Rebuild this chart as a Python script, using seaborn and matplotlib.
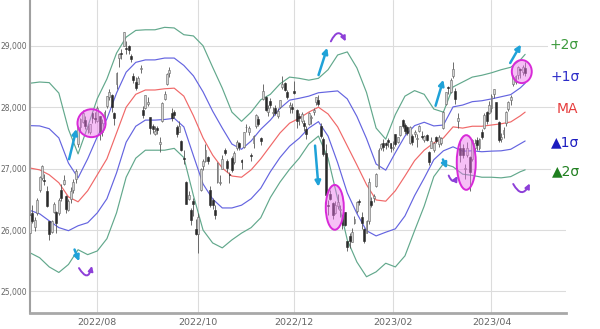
import numpy as np
import pandas as pd
import matplotlib
matplotlib.use("Agg")
import matplotlib.pyplot as plt
import seaborn as sns
from matplotlib.patches import Ellipse, FancyArrowPatch

# ---------------- data ----------------
jp_holidays = ["2022-07-18", "2022-08-11", "2022-09-19", "2022-09-23", "2022-10-10",
               "2022-11-03", "2022-11-23", "2023-01-02", "2023-01-03", "2023-01-09",
               "2023-02-23", "2023-03-21"]
dates = pd.bdate_range("2022-06-21", "2023-04-21", freq="C", holidays=jp_holidays)

opens = [25960, 26280, 26050, 26280, 26650, 26850, 26810, 26640,
         26150, 25970, 26300, 26300, 26270, 26650, 26750, 26560, 26320, 26500, 26650, 26830, 27400, 27680, 27760, 27790, 27650, 27600, 27900, 27830,
         27780, 27850, 27600, 27780, 28020, 28170, 28200, 27900, 28370, 28800, 28880, 28990, 28960, 28990, 28840, 28500, 28410, 28380, 28620, 27950, 27990, 28050,
         27840, 27700, 27560, 27660, 27400, 27770, 28140, 28380, 28560, 27900, 27930, 27680, 27600, 27450, 27180, 26790, 26500, 26330, 26480, 26010,
         25930, 26650, 27050, 27120, 27190, 26650, 26490, 26330, 26780, 26770, 27000, 27310, 27130, 26920, 27170, 27100, 27330, 27420, 27140, 27360,
         27670, 27600, 27230, 27420, 27690, 27800, 27500, 28140, 28160, 27930, 28100, 27900, 27980, 27850, 28010, 28330, 28390, 28250, 28010, 28010,
         28260, 27960, 27850, 27770, 27740, 27640, 27730, 27820, 27930, 28090, 28110, 27700, 27490, 27260, 26400, 26580, 26440, 26270, 26390, 26330, 26240, 26290,
         25820, 25900, 25800, 26120, 26310, 26470, 26220, 26010, 25960, 26140, 26470, 26520, 26720, 27010, 27330, 27420, 27410, 27460, 27410,
         27330, 27560, 27440, 27540, 27790, 27710, 27670, 27420, 27530, 27560, 27490, 27610, 27530, 27460, 27540, 27270, 27340, 27310, 27510,
         27400, 27420, 27660, 28060, 28320, 28250, 28500, 28260, 27770, 27340, 27340, 27000, 27230, 27190, 27150, 27330, 27470, 27340, 27600, 27660, 27920, 27900,
         27990, 28220, 28080, 27760, 27480, 27560, 27750, 27970, 28120, 28370, 28410, 28520, 28620, 28580, 28640]
highs = [26260, 26400, 26210, 26520, 26880, 27060, 26920, 26710,
         26150, 26170, 26460, 26310, 26520, 26750, 26890, 26570, 26500, 26700, 26830, 26990, 27700, 27820, 27960, 27850, 27710, 27730, 27930, 27920,
         28020, 27850, 27800, 27950, 28180, 28300, 28210, 27930, 28570, 28880, 28940, 29220, 29070, 29020, 28860, 28560, 28490, 28500, 28680, 28020, 28200, 28170,
         27840, 27730, 27690, 27700, 27510, 28080, 28260, 28560, 28660, 27990, 27960, 27710, 27780, 27470, 27300, 26800, 26630, 26360, 26520, 26180,
         26270, 27010, 27160, 27400, 27200, 26720, 26530, 26400, 27110, 26900, 27220, 27340, 27150, 26950, 27210, 27290, 27460, 27440, 27160, 27600,
         27730, 27690, 27260, 27540, 27890, 27860, 27520, 28370, 28180, 28040, 28150, 28000, 28040, 27990, 28120, 28500, 28410, 28280, 28090, 28070,
         28420, 27970, 27910, 27930, 27790, 27700, 27920, 27880, 27980, 28170, 28200, 27740, 27520, 27400, 26490, 26650, 26450, 26470, 26590, 26410, 26250, 26300,
         25830, 25950, 26040, 26230, 26470, 26500, 26290, 26040, 26160, 26840, 26540, 26590, 26930, 27330, 27420, 27480, 27440, 27500, 27420,
         27450, 27570, 27520, 27700, 27800, 27740, 27690, 27690, 27560, 27630, 27570, 27710, 27620, 27550, 27560, 27280, 27510, 27440, 27530,
         27540, 27520, 27940, 28240, 28350, 28470, 28730, 28320, 27900, 27490, 27400, 27080, 27440, 27210, 27480, 27480, 27520, 27500, 27640, 27900, 27940, 28100,
         28220, 28290, 28090, 27780, 27580, 27670, 27940, 28100, 28200, 28520, 28520, 28670, 28640, 28690, 28740]
lows = [25950, 26110, 25980, 26240, 26620, 26820, 26730, 26370,
        25840, 25950, 26270, 25960, 26250, 26480, 26740, 26280, 26310, 26440, 26610, 26760, 27350, 27600, 27750, 27650, 27580, 27570, 27750, 27740,
        27760, 27460, 27530, 27700, 27980, 28120, 27930, 27710, 28300, 28660, 28790, 28990, 28860, 28870, 28730, 28400, 28280, 28370, 28560, 27820, 27970, 28020,
        27570, 27580, 27540, 27570, 27270, 27760, 28120, 28360, 28490, 27780, 27820, 27520, 27590, 27290, 27070, 26430, 26490, 26090, 26230, 25920,
        25620, 26640, 26970, 27110, 27070, 26370, 26340, 26180, 26770, 26730, 26990, 27220, 26940, 26760, 26950, 27080, 27300, 27300, 26990, 27330,
        27590, 27550, 27130, 27340, 27660, 27690, 27390, 28120, 27940, 27860, 27990, 27860, 27870, 27830, 27980, 28300, 28270, 28130, 27900, 27900,
        28220, 27660, 27710, 27750, 27620, 27490, 27710, 27720, 27880, 28040, 28020, 27500, 27200, 26430, 26250, 26490, 26180, 26260, 26340, 26220, 26020, 26060,
        25660, 25700, 25800, 26100, 26280, 26400, 26020, 25790, 25960, 26100, 26370, 26460, 26700, 27000, 27300, 27290, 27320, 27350, 27270,
        27300, 27370, 27410, 27530, 27660, 27560, 27550, 27400, 27390, 27520, 27350, 27590, 27490, 27430, 27450, 27060, 27330, 27270, 27420,
        27350, 27390, 27650, 28030, 28220, 28230, 28480, 28050, 27660, 27100, 27170, 26830, 27190, 26630, 27130, 27300, 27300, 27300, 27490, 27650, 27720, 27890,
        27930, 28150, 27800, 27430, 27430, 27500, 27700, 27940, 28030, 28340, 28370, 28460, 28480, 28530, 28500]
closes = [26250, 26150, 26170, 26490, 26870, 27050, 26800, 26390,
          25940, 26150, 26420, 26110, 26490, 26520, 26810, 26340, 26480, 26640, 26790, 26960, 27680, 27800, 27910, 27700, 27660, 27720, 27820, 27800,
          27990, 27590, 27740, 27930, 28180, 28250, 28000, 27820, 28550, 28870, 28870, 29220, 28940, 28930, 28790, 28450, 28310, 28480, 28640, 27880, 28200, 28090,
          27660, 27650, 27620, 27630, 27430, 28070, 28210, 28540, 28610, 27820, 27880, 27570, 27690, 27310, 27150, 26430, 26570, 26170, 26420, 25940,
          26220, 26990, 27120, 27310, 27120, 26400, 26400, 26240, 27090, 26780, 27160, 27260, 27010, 26890, 26970, 27250, 27430, 27350, 27110, 27590,
          27680, 27660, 27200, 27530, 27870, 27720, 27450, 28260, 27960, 27990, 28030, 27930, 27900, 27940, 28120, 28380, 28280, 28160, 28030, 27970,
          28230, 27780, 27820, 27890, 27690, 27570, 27900, 27840, 27950, 28160, 28050, 27530, 27240, 26570, 26390, 26510, 26240, 26410, 26450, 26340, 26090, 26090,
          25720, 25820, 25970, 26180, 26450, 26450, 26120, 25820, 26140, 26790, 26410, 26550, 26910, 27300, 27400, 27360, 27380, 27430, 27330,
          27350, 27400, 27510, 27690, 27690, 27610, 27580, 27670, 27430, 27600, 27500, 27700, 27510, 27530, 27470, 27100, 27450, 27420, 27450,
          27520, 27500, 27930, 28240, 28310, 28440, 28620, 28140, 27830, 27220, 27230, 27010, 27330, 26950, 27470, 27420, 27390, 27480, 27520, 27880, 27780, 28040,
          28190, 28290, 27810, 27470, 27520, 27630, 27920, 28080, 28160, 28490, 28510, 28660, 28610, 28660, 28560]

# Bollinger band readings (every 4th trading day + last day)
band_pos = list(range(0, 205, 4)) + [206]
ma_vals = [27010, 26980, 26900, 26770, 26540, 26460, 26640, 26900, 27160, 27580, 28000, 28210, 28280,
           28280, 28300, 28310, 28180, 27860, 27500, 27220, 27010, 26880, 26860, 26980, 27160, 27370,
           27580, 27740, 27820, 27920, 28000, 27890, 27680, 27370, 27060, 26740, 26490, 26470, 26640,
           26880, 27130, 27300, 27420, 27500, 27680, 27660, 27690, 27690, 27710, 27730, 27760, 27860, 27920]
sigma_vals = [690, 715, 750, 730, 550, 390, 520, 620, 650, 650, 570, 520, 490, 490, 500, 490, 500, 650,
              750, 715, 650, 520, 455, 470, 480, 420, 400, 375, 325, 260, 235, 360, 585, 765, 790, 750,
              585, 505, 620, 650, 570, 455, 275, 210, 325, 375, 400, 415, 425, 440, 445, 455, 470]

x_tick_labels = ["2022/08", "2022/10", "2022/12", "2023/02", "2023/04"]
y_ticks = [25000, 26000, 27000, 28000, 29000]
band_labels = ["+2σ", "+1σ", "MA", "▲1σ", "▲2σ"]

# ---------------- styling ----------------
sns.set_theme(style="white")
plt.rcParams["font.family"] = ["DejaVu Sans"]

GREEN = "#62a88c"
BLUE = "#6464e0"
RED = "#f06868"

fig = plt.figure(figsize=(6.0, 3.29), dpi=100)
ax = fig.add_axes([30 / 600, 16 / 329, 536 / 600, 313 / 329])

pos = np.arange(len(closes))
df = pd.DataFrame({"pos": band_pos, "ma": ma_vals, "sd": sigma_vals})
df["u2"] = df.ma + 2 * df.sd
df["u1"] = df.ma + df.sd
df["l1"] = df.ma - df.sd
df["l2"] = df.ma - 2 * df.sd

for col, colr in [("u2", GREEN), ("u1", BLUE), ("ma", RED), ("l1", BLUE), ("l2", GREEN)]:
    sns.lineplot(data=df, x="pos", y=col, color=colr, lw=0.85, ax=ax, zorder=2)

o = np.array(opens); c = np.array(closes); h = np.array(highs); l = np.array(lows)
up = c >= o
ax.vlines(pos, l, h, color="#555555", lw=0.6, zorder=3)
body_lo = np.minimum(o, c)
body_h = np.maximum(np.abs(c - o), 15)
ax.bar(pos[up], body_h[up], bottom=body_lo[up], width=0.8, color="#d4d4d4",
       edgecolor="#666666", linewidth=0.4, zorder=4)
ax.bar(pos[~up], body_h[~up], bottom=body_lo[~up], width=0.8, color="#2a2a2a",
       edgecolor="#2a2a2a", linewidth=0.4, zorder=4)

# ---------------- annotations ----------------
ell_kw = dict(facecolor=(0.93, 0.45, 0.93, 0.45), edgecolor="#d82ad8", lw=1.4, zorder=6)
for cx, cy, w, hh in [(25.6, 27740, 11.7, 455), (126.8, 26370, 7.5, 730),
                      (181.5, 27100, 7.9, 890), (204.6, 28580, 8.3, 375)]:
    ax.add_patch(Ellipse((cx, cy), w, hh, **ell_kw))

CYAN = "#1fa2d8"
for (x0, y0), (x1, y1) in [((16.0, 27110), (19.6, 27690)), ((18.1, 25725), (20.9, 25450)),
                           ((119.7, 28480), (124.0, 29010)), ((118.5, 27420), (120.1, 26660)),
                           ((168.4, 27980), (172.3, 28490)), ((171.3, 27190), (174.0, 26960)),
                           ((199.2, 28680), (204.8, 29060))]:
    ax.add_patch(FancyArrowPatch((x0, y0), (x1, y1), arrowstyle="-|>", mutation_scale=8,
                                 color=CYAN, lw=1.8, zorder=7))

PURPLE = "#8d3fd8"
for (x0, y0), (x1, y1), rad in [((19.8, 25420), (26.0, 25460), 1.4),
                                ((124.7, 29030), (131.8, 29030), -1.2),
                                ((173.8, 26930), (178.4, 26920), 1.3),
                                ((200.5, 26790), (208.4, 26800), 1.1)]:
    ax.add_patch(FancyArrowPatch((x0, y0), (x1, y1), arrowstyle="-|>", mutation_scale=7,
                                 connectionstyle=f"arc3,rad={rad}", color=PURPLE, lw=1.4, zorder=7))

# ---------------- axes ----------------
ax.set_xlim(0, 223)
ax.set_ylim(24650, 29745)
xt = [int(np.argmax((dates.year == int(s[:4])) & (dates.month == int(s[5:])))) for s in x_tick_labels]
ax.set_xticks(xt)
ax.set_xticklabels(x_tick_labels, fontsize=6.8, color="#666666")
ax.set_yticks(y_ticks)
ax.set_yticklabels([f"{v:,}" for v in y_ticks], fontsize=5.5, color="#666666")
ax.tick_params(axis="x", length=0, pad=3)
ax.tick_params(axis="y", length=0, pad=2)
ax.set_xlabel("")
ax.set_ylabel("")
ax.grid(True, color="#dcdcdc", lw=0.8, zorder=0)
ax.set_axisbelow(True)
for s in ["top", "right"]:
    ax.spines[s].set_visible(False)
ax.spines["left"].set_color("#a0a0a0")
ax.spines["left"].set_linewidth(1.5)
ax.spines["bottom"].set_color("#a8a8a8")
ax.spines["bottom"].set_linewidth(2.0)

label_cols = ["#3c9a3c", "#2c2cc8", "#e63c3c", "#1c1cc0", "#1f7f1f"]
label_y = [45, 77, 109, 142, 171]
label_x = [564, 565, 567, 565, 566]
for txt, colr, yy, xx in zip(band_labels, label_cols, label_y, label_x):
    fig.text(xx / 600, 1 - yy / 329, txt, color=colr, fontsize=10, ha="center", va="center",
             bbox=dict(facecolor="white", edgecolor="none", pad=1.0), zorder=10)

fig.savefig("out.png", dpi=100)
